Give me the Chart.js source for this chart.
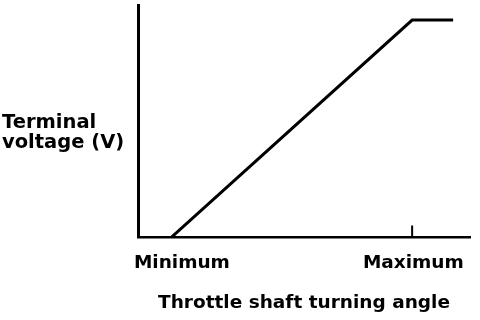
<!DOCTYPE html>
<html>
<head>
<meta charset="utf-8">
<script src="https://cdn.jsdelivr.net/npm/chart.js@4/dist/chart.umd.min.js"></script>
<style>
  html, body { margin: 0; padding: 0; background: #fff; }
  #wrap { width: 480px; height: 320px; position: relative; }
</style>
</head>
<body>
<div id="wrap"><canvas id="c" width="480" height="320"></canvas></div>
<script>
// Throttle shaft angle (0 = Minimum, 100 = Maximum) vs terminal voltage (relative)
const angles   = [0, 100, 117];
const voltages = [0, 93.5, 93.5];
// small tick mark at the Maximum position
const markAngles   = [100, 100];
const markVoltages = [0, 5.2];
const tickLabels    = ['Minimum', 'Maximum'];
const tickPositions = [4.5, 100.5];
const xTitle = 'Throttle shaft turning angle';
const yTitleLines = ['Terminal', 'voltage (V)'];

const FONT = '"DejaVu Sans", sans-serif';

const yLabelPlugin = {
  id: 'yLabel',
  afterDraw(chart) {
    const ctx = chart.ctx;
    ctx.save();
    ctx.fillStyle = '#000';
    ctx.font = 'bold 19.5px ' + FONT;
    ctx.textAlign = 'left';
    ctx.textBaseline = 'alphabetic';
    ctx.fillText(yTitleLines[0], 2, 128);
    ctx.fillText(yTitleLines[1], 2, 148);
    ctx.restore();
  }
};

new Chart(document.getElementById('c'), {
  type: 'line',
  data: {
    datasets: [
      {
        data: angles.map((a, i) => ({x: a, y: voltages[i]})),
        borderColor: '#000',
        borderWidth: 3,
        pointRadius: 0,
        tension: 0,
        fill: false
      },
      {
        data: markAngles.map((a, i) => ({x: a, y: markVoltages[i]})),
        borderColor: '#000',
        borderWidth: 2,
        pointRadius: 0,
        tension: 0,
        fill: false
      }
    ]
  },
  options: {
    responsive: false,
    animation: false,
    devicePixelRatio: 1,
    layout: { padding: { left: 138, right: 10, top: 5, bottom: 6 } },
    plugins: { legend: { display: false }, tooltip: { enabled: false } },
    scales: {
      x: {
        type: 'linear',
        min: -13.7,
        max: 124,
        afterBuildTicks(axis) { axis.ticks = tickPositions.map(v => ({value: v})); },
        ticks: {
          autoSkip: false,
          maxRotation: 0,
          color: '#000',
          padding: 14,
          font: { family: FONT, size: 18.5, weight: 'bold' },
          callback: (v, i) => tickLabels[i]
        },
        grid: { display: true, drawOnChartArea: false, drawTicks: false },
        border: { display: true, color: '#000', width: 2.5 },
        title: {
          display: true,
          text: xTitle,
          color: '#000',
          font: { family: FONT, size: 18.5, weight: 'bold' },
          padding: { top: 4, bottom: 0 }
        }
      },
      y: {
        type: 'linear',
        min: 0,
        max: 100,
        ticks: { display: false },
        grid: { display: true, drawOnChartArea: false, drawTicks: false },
        border: { display: true, color: '#000', width: 3 }
      }
    }
  },
  plugins: [yLabelPlugin]
});
</script>
</body>
</html>
